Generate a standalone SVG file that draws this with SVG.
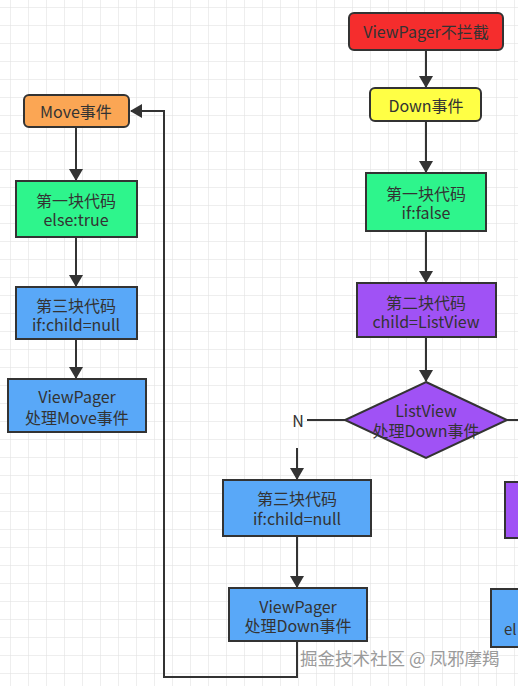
<svg xmlns="http://www.w3.org/2000/svg" width="518" height="686" viewBox="0 0 518 686">
<defs>
<pattern id="grid" x="10" y="7" width="18" height="18" patternUnits="userSpaceOnUse">
<path d="M0 0H18M0 0V18" fill="none" stroke="#dedede" stroke-width="1"/>
</pattern>
<marker id="arr" viewBox="0 0 12 14" refX="11" refY="7" markerWidth="12" markerHeight="14" markerUnits="userSpaceOnUse" orient="auto">
<path d="M0 0L12 7L0 14Z" fill="#333"/>
</marker>
</defs>
<style>
.box{stroke:#333;stroke-width:2}
.t{font-family:"Noto Sans CJK SC","Noto Sans",sans-serif;font-size:16px;fill:#333;text-anchor:middle;dominant-baseline:central}
.c{fill:none;stroke:#333;stroke-width:2}
.red{fill:#f52d2d}.yel{fill:#ffff45}.grn{fill:#2ef58c}.pur{fill:#a052f5}.blu{fill:#59a8f8}.org{fill:#fba654}
</style>
<rect width="518" height="686" fill="#fff"/>
<rect width="518" height="686" fill="url(#grid)"/>

<g id="connectors">
<path class="c" d="M426 50V87" marker-end="url(#arr)"/>
<path class="c" d="M426 121V172" marker-end="url(#arr)"/>
<path class="c" d="M426 231V282" marker-end="url(#arr)"/>
<path class="c" d="M426 337V381" marker-end="url(#arr)"/>
<path class="c" d="M345 420H307"/>
<path class="c" d="M507 420H518"/>
<path class="c" d="M297 448V479" marker-end="url(#arr)"/>
<path class="c" d="M297 536V587" marker-end="url(#arr)"/>
<path class="c" d="M297 641V677H164V111H131" marker-end="url(#arr)"/>
<path class="c" d="M76 127V180" marker-end="url(#arr)"/>
<path class="c" d="M76 237V286" marker-end="url(#arr)"/>
<path class="c" d="M76 339V378" marker-end="url(#arr)"/>
</g>

<g id="n-viewpager-nointercept">
<rect class="box red" x="349" y="13" width="154" height="37" rx="5"/>
<text class="t" x="426" y="31">ViewPager不拦截</text>
</g>
<g id="n-down">
<rect class="box yel" x="370" y="88" width="111" height="33" rx="5"/>
<text class="t" x="426" y="105">Down事件</text>
</g>
<g id="n-block1-false">
<rect class="box grn" x="366" y="173" width="120" height="58"/>
<text class="t" x="426" y="193">第一块代码<tspan x="426" dy="19">if:false</tspan></text>
</g>
<g id="n-block2">
<rect class="box pur" x="357" y="283" width="139" height="54"/>
<text class="t" x="426" y="302">第二块代码<tspan x="426" dy="19">child=ListView</tspan></text>
</g>
<g id="n-decision">
<path class="box pur" d="M426 382L507 420L426 458L345 420Z"/>
<text class="t" x="426" y="410">ListView<tspan x="426" dy="20">处理Down事件</tspan></text>
</g>
<g id="n-label-N">
<text class="t" x="298" y="420">N</text>
</g>
<g id="n-block3-right">
<rect class="box blu" x="223" y="480" width="148" height="56"/>
<text class="t" x="297" y="498">第三块代码<tspan x="297" dy="20">if:child=null</tspan></text>
</g>
<g id="n-vp-down">
<rect class="box blu" x="229" y="588" width="138" height="53"/>
<text class="t" x="298" y="606">ViewPager<tspan x="298" dy="19">处理Down事件</tspan></text>
</g>
<g id="n-move">
<rect class="box org" x="24" y="95" width="105" height="32" rx="5"/>
<text class="t" x="76" y="111">Move事件</text>
</g>
<g id="n-block1-true">
<rect class="box grn" x="16" y="181" width="121" height="56"/>
<text class="t" x="76" y="200">第一块代码<tspan x="76" dy="19">else:true</tspan></text>
</g>
<g id="n-block3-left">
<rect class="box blu" x="16" y="287" width="121" height="52"/>
<text class="t" x="76" y="305">第三块代码<tspan x="76" dy="19">if:child=null</tspan></text>
</g>
<g id="n-vp-move">
<rect class="box blu" x="8" y="379" width="138" height="53"/>
<text class="t" x="77" y="396">ViewPager<tspan x="77" dy="21">处理Move事件</tspan></text>
</g>
<g id="n-purple-edge">
<rect class="box pur" x="505" y="482" width="20" height="56"/>
</g>
<g id="n-blue-edge">
<rect class="box blu" x="491" y="589" width="40" height="58"/>
<text class="t" x="504" y="628" style="text-anchor:start;font-size:15px">el</text>
</g>
<text x="300" y="665" font-family="'Noto Sans CJK SC',sans-serif" font-size="17.5" fill="#9a9a9a" stroke="#fff" stroke-width="0.6" paint-order="stroke">掘金技术社区 @ 凤邪摩羯</text>
</svg>
